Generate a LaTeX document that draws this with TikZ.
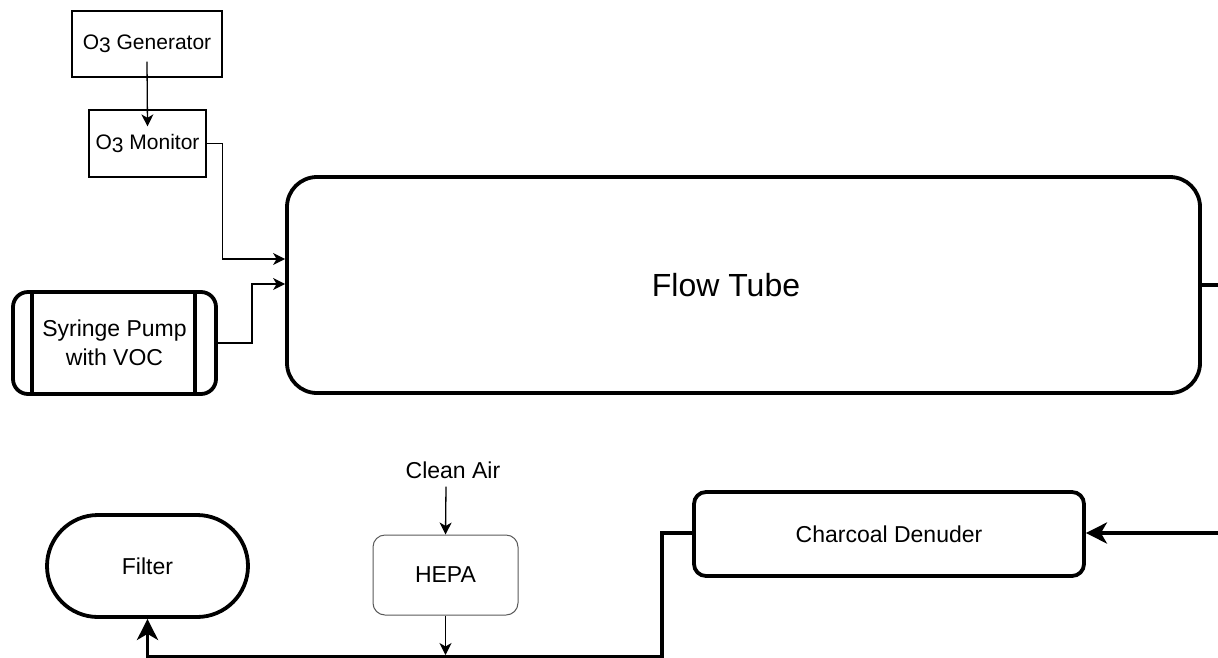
\documentclass[tikz,border=0pt]{standalone}
\usepackage{fontspec}
\setmainfont{Liberation Sans}
\usetikzlibrary{arrows.meta}
\begin{document}
\begin{tikzpicture}[x=1pt,y=-1pt,
  thinbox/.style={draw=black, line width=1.3pt, inner sep=0pt, font=\fontsize{21}{25}\selectfont},
  thickbox/.style={draw=black, line width=3.8pt, inner sep=0pt},
  thinarrow/.style={line width=1.3pt, -{Stealth[length=12pt, width=12pt, inset=3.5pt]}},
  thickarrow/.style={line width=3.8pt, -{Stealth[length=21pt, width=21pt, inset=6pt]}},
  thickline/.style={line width=3.8pt},
  midfont/.style={font=\fontsize{23}{29}\selectfont}
]
\useasboundingbox (0,0) rectangle (1218,657);

% O3 generator and monitor
\node[thinbox, minimum width=150pt, minimum height=66pt] (gen) at (147,44) {O\raisebox{-2.5pt}{3} Generator};
\node[thinbox, minimum width=117pt, minimum height=67pt] (mon) at (147.5,143.5) {O\raisebox{-2.5pt}{3} Monitor};

% syringe pump
\node[thickbox, rounded corners=15pt, minimum width=203pt, minimum height=102pt, midfont, align=center] (pump) at (114.5,343) {Syringe Pump\\with VOC};
\draw[line width=3.8pt] ([xshift=21pt]pump.north west) -- ([xshift=21pt]pump.south west);
\draw[line width=3.8pt] ([xshift=-23pt]pump.north east) -- ([xshift=-23pt]pump.south east);

% flow tube
\node[thickbox, rounded corners=30pt, minimum width=913pt, minimum height=216pt,
      label={[font=\fontsize{32}{38}\selectfont, xshift=-17.5pt]center:Flow Tube}] (ft) at (743.5,285) {};

% bottom row
\node[thickbox, rounded corners=51pt, minimum width=201pt, minimum height=102pt, midfont] (filt) at (147.5,566) {Filter};
\node[draw=black!65, line width=1pt, rounded corners=12pt, inner sep=0pt, minimum width=145pt, minimum height=80pt, midfont] (hepa) at (445.5,575) {HEPA};
\node[midfont, inner sep=0pt] (air) at (453,470) {Clean Air};
\node[thickbox, rounded corners=12pt, minimum width=390pt, minimum height=84pt, midfont] (den) at (889,534) {Charcoal Denuder};

% free ends at the right edge
\coordinate (outA) at (1218,285);
\coordinate (inB) at (1218,533);
\coordinate (bend) at (662,656.5);

% connectors
\draw[thinarrow] ([yshift=16pt]gen.south) -- ([yshift=-17pt]mon.north);
\draw[thinarrow] (mon.east) -- ++(16,0) |- (ft.west |- 0,259);
\draw[thinarrow] (pump.east) -- ++(34,0) |- (ft.west |- 0,284);
\draw[thickline] (ft.east |- outA) -- (outA);
\draw[thickarrow] (inB) -- (den.east |- inB);
\draw[thinarrow] (air.south) ++(-7,8) -- (hepa.north);
\draw[thinarrow] (hepa.south) -- (hepa.south |- 0,655);
\draw[thickarrow] (den.west |- 0,533) -| (bend) -| (filt.south);
\end{tikzpicture}
\end{document}
